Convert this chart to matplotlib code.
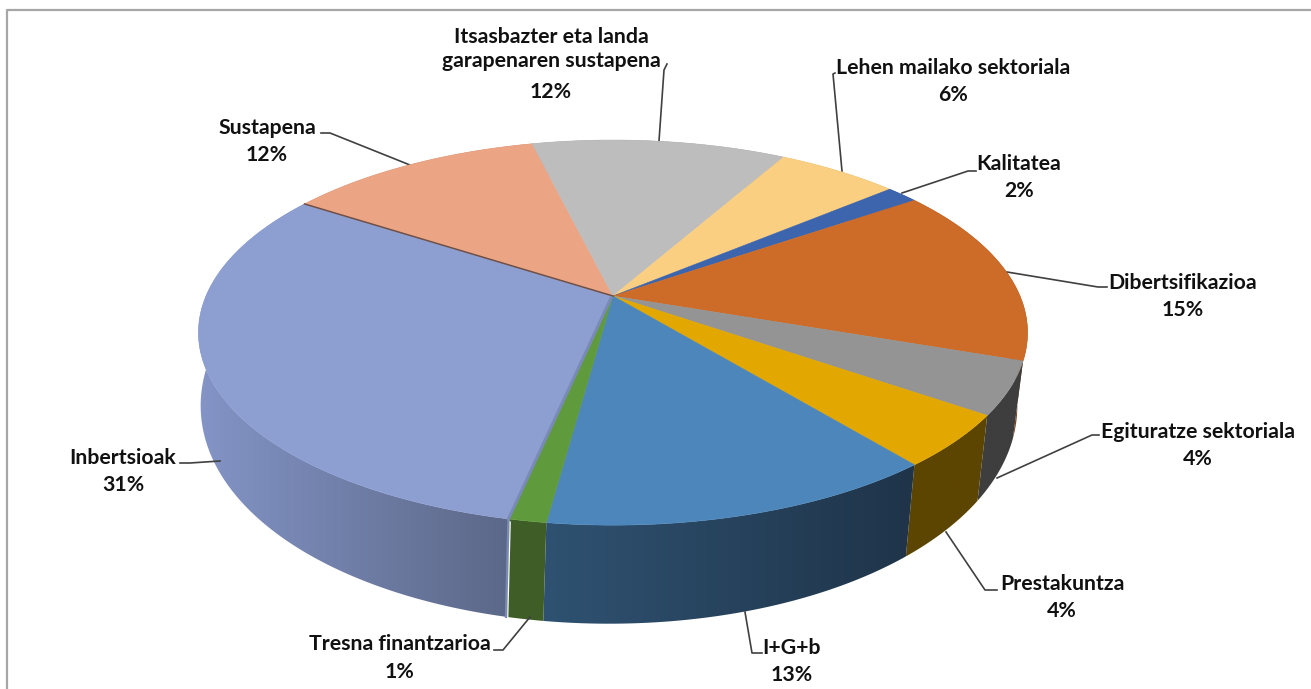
import numpy as np
import matplotlib
matplotlib.use("Agg")
import matplotlib.pyplot as plt
from matplotlib.colors import to_rgb
from matplotlib.patches import Polygon

# Data, clockwise on screen
labels = ["Inbertsioak", "Sustapena", "Itsasbazter eta landa\ngarapenaren sustapena",
          "Lehen mailako sektoriala", "Kalitatea", "Dibertsifikazioa",
          "Egituratze sektoriala", "Prestakuntza", "I+G+b", "Tresna finantzarioa"]
values = [30.9, 12.0, 11.9, 5.7, 1.5, 15.0, 4.4, 4.4, 13.0, 1.2]

# Styles
top_colors = ["#8d9ed1", "#eba585", "#bdbdbd", "#fbcf82", "#3c65ae",
              "#cd6b28", "#949494", "#e2a700", "#4c86ba", "#5f9a3c"]
# wall colour at the left and the right end of each slice
wall_left = ["#8394c6", "#a87660", "#888888", "#b49560", "#2b4980",
             "#7a3f15", "#3e3e3e", "#5c4500", "#2f5272", "#3f5e27"]
wall_right = ["#5c6888", "#a87660", "#888888", "#b49560", "#2b4980",
              "#7a3f15", "#3e3e3e", "#5c4500", "#1f3449", "#3f5e27"]
start_angle = 213.2 - 360 * values[0] / sum(values)

# Label layout in picture pixels: text centre and leader line
label_xy = [(123, 458), (267, 128), (551, 49), (953, 68), (1019, 164),
            (1183, 283), (1198, 432), (1062, 584), (792, 648), (400, 644)]
percent_y = [485, 155, 92, 95, 191, 310, 459, 611, 675, 672]
leaders = [[(220, 461), (190, 463), (180, 463)],
           [(410, 165), (330, 133), (321, 133)],
           [(659, 141), (664, 70), (667, 64)],
           [(842, 171), (833, 74), (835, 73)],
           [(902, 193), (968, 171), (976, 171)],
           [(1007, 272), (1098, 287), (1107, 287)],
           [(997, 478), (1092, 435), (1099, 435)],
           [(946, 532), (985, 590), (997, 590)],
           [(745, 612), (752, 653), (762, 653)],
           [(530, 617), (503, 650), (494, 650)]]


def project(theta, z=0.0):
    # perspective circle, z=0 top face, z=1 bottom rim
    t = np.radians(theta)
    c, s = np.cos(t), np.sin(t)
    w = 1 - 0.19 * s
    scale = 1 - 0.015 * z
    x = 613 - 4 * z + scale * 407 * c / w
    y = 296 + scale * 185.6 * s / w + z * (67 + 35 * s)
    return x, y


fig = plt.figure(figsize=(13.11, 6.89), dpi=100)
ax = fig.add_axes([0, 0, 1, 1])

# chart frame, open on the right and the bottom
ax.plot([7, 7, 1311], [689, 10, 10], color="#a6a6a6", lw=1.6)

edges = start_angle + np.concatenate([[0], np.cumsum(values)]) * 360 / sum(values)

# side walls back to front, each one a left-right gradient clipped to its shape
mids = (edges[:-1] + edges[1:]) / 2
for i in np.argsort(np.sin(np.radians(mids))):
    th = np.linspace(edges[i], edges[i + 1], 200)
    x_top, y_top = project(th)
    x_bot, y_bot = project(th, 1)
    x_all = np.r_[x_top, x_bot[::-1]]
    y_all = np.r_[y_top, y_bot[::-1]]
    a, b = np.array(to_rgb(wall_left[i])), np.array(to_rgb(wall_right[i]))
    f = np.linspace(0, 1, 128)[None, :, None]
    shade = a + (b - a) * f
    im = ax.imshow(shade, extent=(x_all.min(), x_all.max(), y_all.max(), y_all.min()),
                   aspect="auto", interpolation="bilinear", zorder=1)
    im.set_clip_path(Polygon(np.c_[x_all, y_all], closed=True, transform=ax.transData))

# top face
for i in range(len(values)):
    th = np.linspace(edges[i], edges[i + 1], 200)
    x, y = project(th)
    ax.fill(np.r_[613, x], np.r_[296, y], facecolor=top_colors[i],
            edgecolor=top_colors[i], lw=0.4, zorder=3)

# cut faces of the Inbertsioak slice
x_a, y_a = project(edges[1])
ax.plot([613, x_a], [296, y_a], color="#6e5048", lw=1.1, zorder=4)
x_b, y_b = project(edges[0])
ax.plot([611, x_b - 1], [298, y_b], color="#7a8ab8", lw=2.2, zorder=4)
x_c, y_c = project(edges[0], 1)
ax.plot([x_b - 1, x_c - 1], [y_b, y_c], color="#7a8ab8", lw=1.6, zorder=4)
ax.plot([x_b + 0.8, x_c + 0.8], [y_b + 3, y_c], color="white", lw=0.9, zorder=4)

# labels and leaders
for i in range(len(values)):
    lx, ly = zip(*leaders[i])
    ax.plot(lx, ly, color="#404040", lw=1.2, solid_joinstyle="round", zorder=2)
    ax.text(label_xy[i][0], label_xy[i][1], labels[i], ha="center", va="center",
            family="Lato", weight="bold", fontsize=15.3, color="#111111", linespacing=1.3)
    ax.text(label_xy[i][0], percent_y[i], f"{values[i]:.0f}%", ha="center", va="center",
            family="Lato", weight="bold", fontsize=15.3, color="#111111")

ax.set_xlim(0, 1311)
ax.set_ylim(689, 0)
ax.axis("off")

fig.savefig("out.png", dpi=100)
